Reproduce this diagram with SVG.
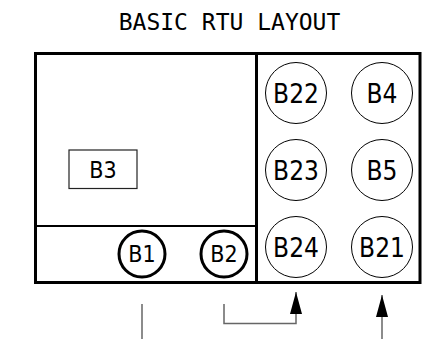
<svg xmlns="http://www.w3.org/2000/svg" width="425" height="339" viewBox="0 0 425 339">
<style>
.title{font-family:"DejaVu Sans Mono",monospace;font-size:23px;fill:#000}
.lbl{font-family:"DejaVu Sans Condensed","DejaVu Sans",sans-serif;font-stretch:condensed;font-size:26px;fill:#000;text-anchor:middle}
.lbl-s{font-family:"DejaVu Sans Condensed","DejaVu Sans",sans-serif;font-stretch:condensed;font-size:23px;fill:#000;text-anchor:middle}
.c{fill:none;stroke:#000;stroke-width:1}
.ct{fill:none;stroke:#000;stroke-width:3}
.wire{fill:none;stroke:#666;stroke-width:1.5}
</style>
<defs>
<marker id="ah" markerWidth="22" markerHeight="12" refX="22" refY="6" orient="auto" markerUnits="userSpaceOnUse" viewBox="0 0 22 12">
<path d="M0,0 L22,6 L0,12 Z" fill="#000"/>
</marker>
</defs>
<rect width="425" height="339" fill="#fff"/>
<text class="title" x="229.5" y="30" text-anchor="middle">BASIC RTU LAYOUT</text>
<g id="frame">
<rect x="35.5" y="53.5" width="384.5" height="229" fill="none" stroke="#000" stroke-width="3"/>
<line x1="256.5" y1="53.5" x2="256.5" y2="282.5" stroke="#000" stroke-width="3"/>
<line x1="35.5" y1="226" x2="256.5" y2="226" stroke="#000" stroke-width="2"/>
</g>
<g id="B3"><rect x="69" y="150" width="68" height="38.5" fill="none" stroke="#222" stroke-width="1.2"/><text class="lbl-s" x="103" y="178">B3</text></g>
<g id="B22"><circle class="c" cx="296" cy="93" r="30.5"/><text class="lbl" x="296" y="102.5">B22</text></g>
<g id="B4"><circle class="c" cx="382" cy="93" r="30.5"/><text class="lbl" x="382" y="102.5">B4</text></g>
<g id="B23"><circle class="c" cx="296" cy="170" r="30.5"/><text class="lbl" x="296" y="179.5">B23</text></g>
<g id="B5"><circle class="c" cx="382" cy="170" r="30.5"/><text class="lbl" x="382" y="179.5">B5</text></g>
<g id="B24"><circle class="c" cx="296" cy="247" r="30.5"/><text class="lbl" x="296" y="256.5">B24</text></g>
<g id="B21"><circle class="c" cx="382" cy="247" r="30.5"/><text class="lbl" x="382" y="256.5">B21</text></g>
<g id="B1"><circle class="ct" cx="142" cy="254" r="23"/><text class="lbl-s" x="142" y="262">B1</text></g>
<g id="B2"><circle class="ct" cx="224" cy="254" r="23"/><text class="lbl-s" x="224" y="262">B2</text></g>
<g id="connectors">
<line class="wire" x1="142" y1="304" x2="142" y2="339"/>
<polyline class="wire" points="224,304 224,323.5 296,323.5 296,292" marker-end="url(#ah)"/>
<line class="wire" x1="382" y1="339" x2="382" y2="295" marker-end="url(#ah)"/>
</g>
</svg>
